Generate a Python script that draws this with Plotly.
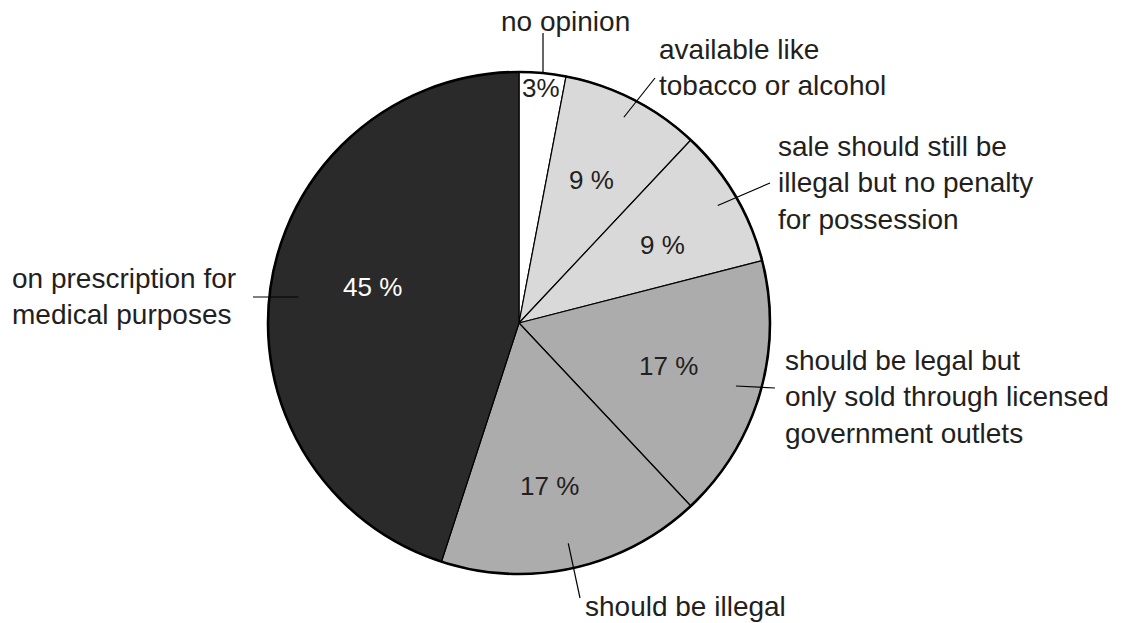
import math
import plotly.graph_objects as go

labels = ["no opinion", "available like<br>tobacco or alcohol",
          "sale should still be<br>illegal but no penalty<br>for possession",
          "should be legal but<br>only sold through licensed<br>government outlets",
          "should be illegal", "on prescription for<br>medical purposes"]
values = [3, 9, 9, 17, 17, 45]
colors = ["#ffffff", "#d9d9d9", "#d9d9d9", "#acacac", "#acacac", "#2a2a2a"]
pct_colors = ["#231f20", "#231f20", "#231f20", "#231f20", "#231f20", "#ffffff"]

# layout geometry (pixels)
W, H = 1129, 623
CX, CY, R = 519, 323, 251
FONT = "Liberation Sans, Arial, Helvetica, sans-serif"
FS_LABEL = 28
FS_PCT = 26

# outside label placement: (left x, center y) and leader-line outer end, inner radius fraction
label_pos = [(499, 22), (657, 68), (776, 183), (783, 397), (583, 606), (10, 296)]
leader_end = [(543, 33), (655, 78), (770, 183), (775, 388), (580, 598), (253, 297)]
leader_rin = [1.0, 0.92, 0.92, 0.9, 0.9, 0.89]
pct_rfrac = [0.94, 0.64, 0.65, 0.62, 0.66, 0.6]
pct_dang = [0, 0, 2, 0, 2, 5]  # small angular nudges (deg) for percentage text


def px(x):
    return x / W


def py(y):
    return 1 - y / H


dom = dict(x=[px(CX - R), px(CX + R)], y=[py(CY + R), py(CY - R)])
fig = go.Figure()
fig.add_trace(go.Pie(
    values=values, labels=labels, sort=False, direction="clockwise", rotation=0,
    marker=dict(colors=colors, line=dict(color="#000000", width=1.2)),
    textinfo="none", hoverinfo="skip", showlegend=False, domain=dom,
))
# thicker outer rim
fig.add_trace(go.Pie(
    values=[1], sort=False, marker=dict(colors=["rgba(0,0,0,0)"], line=dict(color="#000000", width=2.6)),
    textinfo="none", hoverinfo="skip", showlegend=False, domain=dom,
))

total = sum(values)
cum = 0
annotations = []
shapes = []
for i, v in enumerate(values):
    mid = (cum + v / 2) / total * 2 * math.pi
    cum += v
    # percentage text
    r = R * pct_rfrac[i]
    a = mid + math.radians(pct_dang[i])
    tx, ty = CX + r * math.sin(a), CY - r * math.cos(a)
    txt = f"{v}%" if v < 5 else f"{v} %"
    annotations.append(dict(x=px(tx), y=py(ty), xref="paper", yref="paper", text=txt,
                            showarrow=False, xanchor="center", yanchor="middle",
                            font=dict(family=FONT, size=FS_PCT, color=pct_colors[i])))
    # outside label
    lx, ly = label_pos[i]
    annotations.append(dict(x=px(lx), y=py(ly), xref="paper", yref="paper", text=labels[i],
                            showarrow=False, xanchor="left", yanchor="middle", align="left",
                            font=dict(family=FONT, size=FS_LABEL, color="#231f20")))
    # leader line
    rin = R * leader_rin[i]
    x0, y0 = CX + rin * math.sin(mid), CY - rin * math.cos(mid)
    x1, y1 = leader_end[i]
    if i == 0:
        x0 = x1
    if i == 5:
        y0 = y1
    shapes.append(dict(type="line", xref="paper", yref="paper", x0=px(x0), y0=py(y0),
                       x1=px(x1), y1=py(y1), line=dict(color="#000000", width=1.2)))

fig.update_layout(width=W, height=H, margin=dict(l=0, r=0, t=0, b=0),
                  paper_bgcolor="white", plot_bgcolor="white",
                  annotations=annotations, shapes=shapes, showlegend=False)
fig.write_html("out.html")
